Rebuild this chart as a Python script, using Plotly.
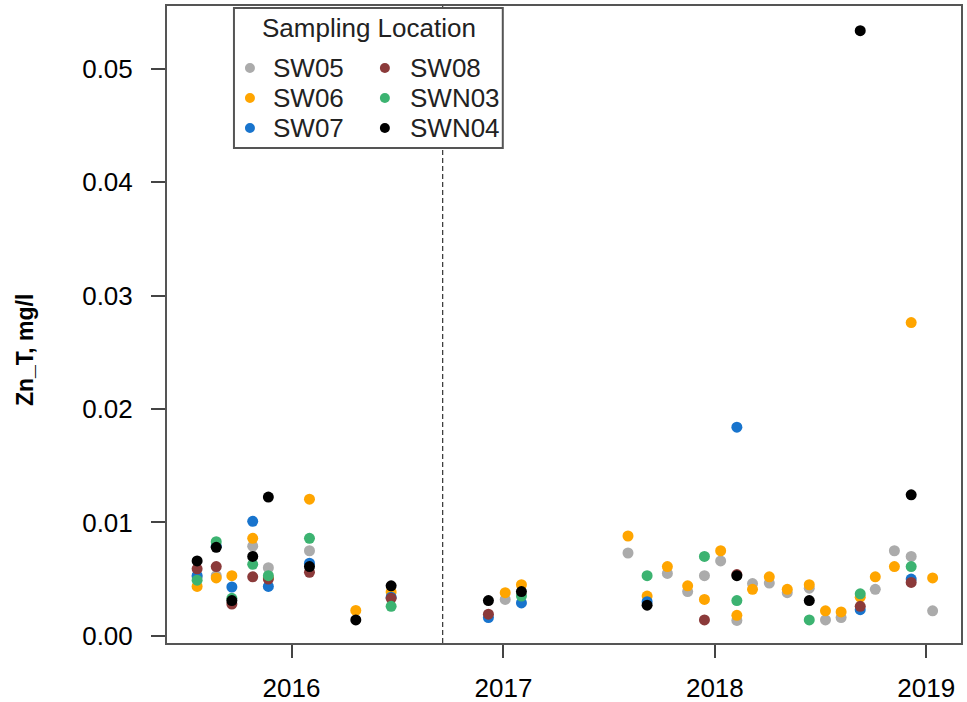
import plotly.graph_objects as go

# Total zinc (mg/l) by sampling location
sites = ["SW05", "SW06", "SW07", "SW08", "SWN03", "SWN04"]
site_colors = ["#ABABAB", "#FFA500", "#1874CD", "#8B3A3A", "#3CB371", "#000000"]

sw05_dates = ["2015-07-22", "2015-08-24", "2015-10-26", "2015-11-22", "2016-02-01",
              "2017-01-04", "2017-08-04", "2017-10-11", "2017-11-15", "2017-12-14",
              "2018-01-11", "2018-02-08", "2018-03-07", "2018-04-05", "2018-05-06",
              "2018-06-13", "2018-07-11", "2018-08-07", "2018-10-05", "2018-11-07",
              "2018-12-06", "2019-01-12"]
sw05_zn = [0.0052, 0.0053, 0.0079, 0.0060, 0.0075,
           0.0032, 0.0073, 0.0055, 0.0039, 0.0053,
           0.0066, 0.00135, 0.0046, 0.00465, 0.0038,
           0.0042, 0.0014, 0.0016, 0.0041, 0.0075,
           0.0070, 0.0022]

sw06_dates = ["2015-07-22", "2015-08-24", "2015-09-20", "2015-10-26", "2015-11-22",
              "2016-02-01", "2016-04-21", "2016-06-21", "2017-01-04", "2017-02-01",
              "2017-08-04", "2017-09-06", "2017-10-11", "2017-11-15", "2017-12-14",
              "2018-01-11", "2018-02-08", "2018-03-07", "2018-04-05", "2018-05-06",
              "2018-06-13", "2018-07-11", "2018-08-07", "2018-09-09", "2018-10-05",
              "2018-11-07", "2018-12-06", "2019-01-12"]
sw06_zn = [0.00435, 0.0051, 0.0053, 0.0086, 0.0051,
           0.01205, 0.00223, 0.00385, 0.0038, 0.0045,
           0.0088, 0.0035, 0.0061, 0.0044, 0.0032,
           0.0075, 0.0018, 0.0041, 0.0052, 0.0041,
           0.0045, 0.0022, 0.0021, 0.0034, 0.0052,
           0.0061, 0.02763, 0.0051]

sw07_dates = ["2015-07-22", "2015-08-24", "2015-09-20", "2015-10-26", "2015-11-22",
              "2016-02-01", "2016-06-21", "2016-12-06", "2017-02-01", "2017-09-06",
              "2018-02-08", "2018-09-09", "2018-12-06"]
sw07_zn = [0.0053, 0.0079, 0.0043, 0.0101, 0.00435,
           0.0064, 0.0034, 0.0016, 0.0029, 0.0030,
           0.0184, 0.0023, 0.0050]

sw08_dates = ["2015-07-22", "2015-08-24", "2015-09-20", "2015-10-26", "2015-11-22",
              "2016-02-01", "2016-06-21", "2016-12-06", "2017-12-14", "2018-02-08",
              "2018-09-09", "2018-12-06"]
sw08_zn = [0.0059, 0.0061, 0.0028, 0.0052, 0.0050,
           0.0056, 0.0033, 0.0019, 0.0014, 0.0054,
           0.0026, 0.0047]

swn03_dates = ["2015-07-22", "2015-08-24", "2015-09-20", "2015-10-26", "2015-11-22",
               "2016-02-01", "2016-06-21", "2017-02-01", "2017-09-06", "2017-12-14",
               "2018-02-08", "2018-06-13", "2018-09-09", "2018-12-06"]
swn03_zn = [0.0049, 0.0083, 0.0033, 0.0063, 0.0053,
            0.0086, 0.0026, 0.0035, 0.0053, 0.0070,
            0.0031, 0.0014, 0.0037, 0.0061]

swn04_dates = ["2015-07-22", "2015-08-24", "2015-09-20", "2015-10-26", "2015-11-22",
               "2016-02-01", "2016-04-21", "2016-06-21", "2016-12-06", "2017-02-01",
               "2017-09-06", "2018-02-08", "2018-06-13", "2018-09-09", "2018-12-06"]
swn04_zn = [0.0066, 0.0078, 0.0031, 0.0070, 0.01223,
            0.0061, 0.0014, 0.0044, 0.0031, 0.0039,
            0.0027, 0.0053, 0.0031, 0.05338, 0.01243]

site_dates = [sw05_dates, sw06_dates, sw07_dates, sw08_dates, swn03_dates, swn04_dates]
site_zn = [sw05_zn, sw06_zn, sw07_zn, sw08_zn, swn03_zn, swn04_zn]

cutoff_date = "2016-09-18"
y_ticks = [0.00, 0.01, 0.02, 0.03, 0.04, 0.05]

FONT = "Liberation Sans, Arial, sans-serif"
W, H = 967, 702
# plot area in pixels
L, R, T, B = 167, 961.5, 6, 643


def px_x(px):
    return (px - L) / (R - L)


def px_y(py):
    return (B - py) / (B - T)


fig = go.Figure()

for name, color, dates, zn in zip(sites, site_colors, site_dates, site_zn):
    fig.add_trace(go.Scatter(
        x=dates, y=zn, name=name, mode="markers",
        marker=dict(color=color, size=11, line=dict(width=0)),
        showlegend=False,
    ))

shapes = [
    # dashed separator
    dict(type="line", xref="x", yref="paper", x0=cutoff_date, x1=cutoff_date,
         y0=0, y1=1, line=dict(color="#333333", width=1.2, dash="5px,3px")),
    # legend box
    dict(type="rect", xref="paper", yref="paper",
         x0=px_x(234), x1=px_x(503), y0=px_y(148), y1=px_y(8),
         line=dict(color="#555555", width=2), fillcolor="white", layer="above"),
]
annotations = [
    dict(text="Sampling Location", xref="paper", yref="paper",
         x=px_x(369), y=px_y(28), showarrow=False, xanchor="center", yanchor="middle",
         font=dict(family=FONT, size=26, color="#222222")),
    dict(text="<b>Zn_T, mg/l</b>", xref="paper", yref="paper",
         x=px_x(25), y=px_y(350), showarrow=False, textangle=-90,
         xanchor="center", yanchor="middle",
         font=dict(family=FONT, size=23, color="black")),
]

# manual two-column legend
col_marker = [250, 385]
col_text = [271, 408]
row_y = [68, 98, 128]
for i, (name, color) in enumerate(zip(sites, site_colors)):
    c, r = divmod(i, 3)
    mx, my = px_x(col_marker[c]), px_y(row_y[r])
    shapes.append(dict(type="circle", xref="paper", yref="paper",
                       xsizemode="pixel", ysizemode="pixel",
                       xanchor=mx, yanchor=my, x0=-5, x1=5, y0=-5, y1=5,
                       fillcolor=color, line=dict(width=0), layer="above"))
    annotations.append(dict(text=name, xref="paper", yref="paper",
                            x=px_x(col_text[c]), y=my, showarrow=False,
                            xanchor="left", yanchor="middle",
                            font=dict(family=FONT, size=26, color="#222222")))

fig.update_layout(
    width=W, height=H,
    margin=dict(l=L, r=W - R, t=T, b=H - B),
    paper_bgcolor="white", plot_bgcolor="white",
    font=dict(family=FONT, size=26, color="black"),
    shapes=shapes, annotations=annotations,
    xaxis=dict(
        type="date", range=["2015-05-31", "2019-03-02"],
        tick0="2016-01-01", dtick="M12", tickformat="%Y",
        ticks="outside", ticklen=13, tickwidth=1.5, tickcolor="#444444",
        ticklabelstandoff=8, automargin=False,
        showline=True, mirror=True, linecolor="#555555", linewidth=2,
        showgrid=False, zeroline=False,
    ),
    yaxis=dict(
        range=[-0.00064, 0.05556], tickvals=y_ticks, tickformat=".2f",
        ticks="outside", ticklen=14, tickwidth=1.5, tickcolor="#444444",
        ticklabelstandoff=13, automargin=False,
        showline=True, mirror=True, linecolor="#555555", linewidth=2,
        showgrid=False, zeroline=False,
    ),
)

fig.write_html("out.html", config={"displayModeBar": False},
               post_script="document.body.style.margin = '0';")
